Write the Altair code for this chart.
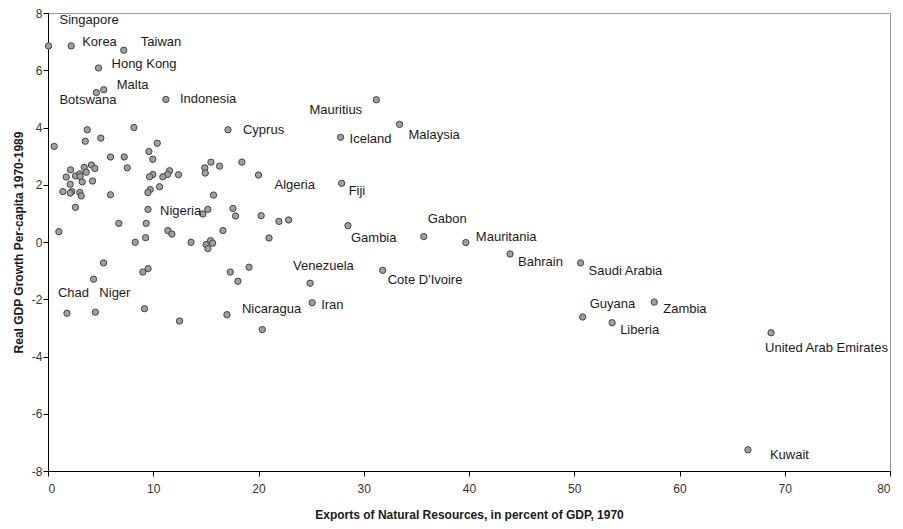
import altair as alt
import pandas as pd

# Labelled countries
names = ["Singapore", "Korea", "Taiwan", "Hong Kong", "Malta", "Botswana", "Indonesia",
         "Cyprus", "Mauritius", "Iceland", "Malaysia", "Algeria", "Fiji", "Gabon", "Gambia",
         "Mauritania", "Bahrain", "Saudi Arabia", "Guyana", "Zambia", "Liberia",
         "United Arab Emirates", "Kuwait", "Venezuela", "Cote D'Ivoire", "Iran", "Nicaragua",
         "Chad", "Niger", "Nigeria"]
names_x = [0.05, 2.2, 7.2, 4.8, 5.3, 4.6, 11.2, 17.1, 31.2, 27.8, 33.4, 20.0, 27.9, 35.7, 28.5,
           39.7, 43.9, 50.6, 50.8, 57.6, 53.6, 68.7, 66.5, 24.9, 31.8, 25.1, 17.0, 1.8, 4.5, 9.5]
names_y = [6.85, 6.85, 6.7, 6.08, 5.32, 5.22, 4.98, 3.92, 4.97, 3.66, 4.11, 2.34, 2.05, 0.19, 0.57,
           -0.02, -0.42, -0.73, -2.62, -2.10, -2.82, -3.17, -7.26, -1.44, -0.99, -2.12, -2.54,
           -2.49, -2.45, 1.14]

# Unlabelled countries
other_x = [3.73, 8.16, 0.59, 3.54, 5.02, 5.94, 7.24, 7.53, 9.58, 2.14, 3.44, 4.13, 4.45, 3.63,
           1.73, 2.61, 3.02, 3.06, 3.25, 2.11, 4.23, 1.41, 2.26, 2.11, 3.02, 3.16, 5.94, 2.61,
           10.38, 9.96, 15.48, 16.3, 14.9, 14.94, 18.42, 11.55, 11.36, 10.91, 12.4, 9.96, 9.65,
           9.71, 9.49, 10.6, 15.73, 15.19, 14.71, 17.57, 17.82, 1.03, 6.73, 9.33, 8.29, 9.27,
           11.39, 11.77, 13.59, 15.02, 15.45, 15.64, 15.19, 16.62, 20.25, 21.94, 22.86, 21.0,
           5.28, 4.33, 9.01, 9.51, 9.17, 12.5, 17.32, 18.04, 19.1, 20.36]
other_y = [3.92, 4.0, 3.34, 3.52, 3.63, 2.97, 2.97, 2.59, 3.16, 2.52, 2.61, 2.69, 2.57, 2.44,
           2.27, 2.31, 2.38, 2.29, 2.10, 2.02, 2.13, 1.76, 1.76, 1.71, 1.73, 1.61, 1.65, 1.21,
           3.45, 2.89, 2.79, 2.65, 2.59, 2.41, 2.79, 2.49, 2.36, 2.28, 2.35, 2.36, 2.28,
           1.83, 1.73, 1.93, 1.64, 1.14, 0.98, 1.17, 0.91, 0.36, 0.65, 0.65, -0.01, 0.15,
           0.40, 0.28, -0.01, -0.09, 0.05, -0.04, -0.23, 0.40, 0.92, 0.72, 0.77, 0.14,
           -0.73, -1.30, -1.05, -0.93, -2.33, -2.76, -1.05, -1.37, -0.88, -3.06]

x_ticks = [0, 10, 20, 30, 40, 50, 60, 70, 80]
y_ticks = [-8, -6, -4, -2, 0, 2, 4, 6, 8]

# Label placement (pixel offsets from the point to the left/middle of the label)
label_offsets = {
    "Singapore": (11, -26), "Korea": (11, -4), "Taiwan": (17, -8), "Hong Kong": (13, -4),
    "Malta": (13, -5), "Botswana": (-37, 7), "Indonesia": (14, 0), "Cyprus": (15, 0),
    "Mauritius": (-67, 10), "Iceland": (9, 2), "Malaysia": (9, 11), "Algeria": (16, 10),
    "Fiji": (7, 8), "Gabon": (4, -18), "Gambia": (3, 12), "Mauritania": (10, -6),
    "Bahrain": (8, 8), "Saudi Arabia": (8, 8), "Guyana": (7, -13), "Zambia": (9, 7),
    "Liberia": (8, 7), "United Arab Emirates": (-6, 15), "Kuwait": (22, 5),
    "Venezuela": (-17, -17), "Cote D'Ivoire": (5, 10), "Iran": (9, 2), "Nicaragua": (15, -6),
    "Chad": (-9, -20), "Niger": (4, -19), "Nigeria": (12, 2),
}

df = pd.DataFrame({
    "name": names + [""] * len(other_x),
    "x": names_x + other_x,
    "y": names_y + other_y,
})

FONT = "Liberation Sans"

x_enc = alt.X("x:Q",
              scale=alt.Scale(domain=[0, 80], nice=False, zero=False),
              axis=alt.Axis(values=x_ticks, title="Exports of Natural Resources, in percent of GDP, 1970",
                            labelPadding=7, titlePadding=15, labelExpr="'' + datum.value"))
y_enc = alt.Y("y:Q",
              scale=alt.Scale(domain=[-8, 8], nice=False, zero=False),
              axis=alt.Axis(values=y_ticks, title="Real GDP Growth Per-capita 1970-1989",
                            labelPadding=1, titlePadding=6, labelExpr="'' + datum.value"))

base = alt.Chart(df)
points = base.mark_point(filled=True, size=40, fill="#a0a0a0", stroke="#444444",
                         strokeWidth=1, opacity=1).encode(x=x_enc, y=y_enc)

layers = [points]
for nm in names:
    dx, dy = label_offsets[nm]
    layers.append(
        base.transform_filter(alt.datum.name == nm)
        .mark_text(align="left", baseline="middle", dx=dx, dy=dy, font=FONT,
                   fontSize=13, color="#1a1a1a")
        .encode(x="x:Q", y="y:Q", text="name:N")
    )

chart = alt.layer(*layers).properties(
    width=842, height=458,
    autosize=alt.AutoSizeParams(type="none"),
    padding={"left": 40, "top": 5, "right": 5, "bottom": 50},
).configure_view(
    stroke="#9a9a9a", strokeWidth=1
).configure_axis(
    grid=False, domainColor="#000000", domainWidth=1, tickColor="#000000", tickSize=5,
    labelFont=FONT, labelFontSize=12, labelColor="#333333",
    titleFont=FONT, titleFontSize=12, titleFontWeight="bold", titleColor="#1a1a1a",
)

chart.save("out.html", embed_options={"renderer": "svg", "actions": False})
